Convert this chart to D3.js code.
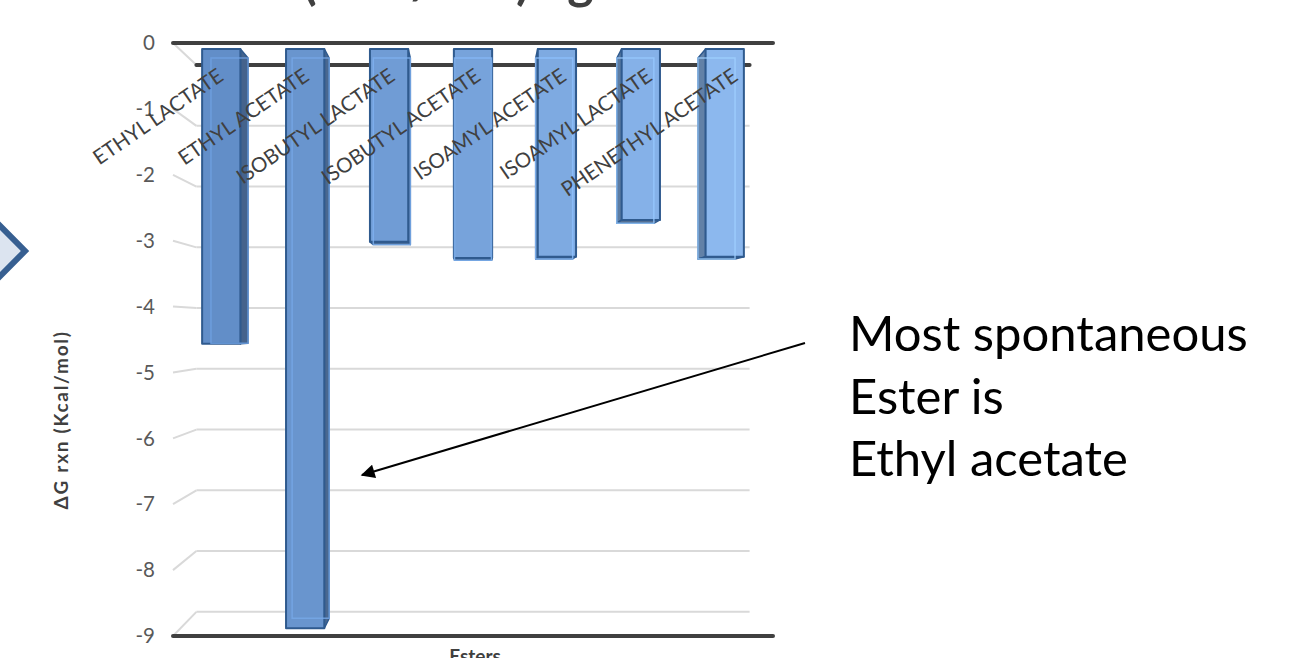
<!DOCTYPE html>
<html>
<head>
<meta charset="utf-8">
<script src="https://cdn.jsdelivr.net/npm/d3@7"></script>
<style>
  html, body { margin: 0; padding: 0; background: #fff; overflow: hidden; }
  svg { display: block; }
</style>
</head>
<body>
<svg id="chart" width="1293" height="658"></svg>
<script>
// ---- data ----
const categories = [
  "ETHYL LACTATE", "ETHYL ACETATE", "ISOBUTYL LACTATE", "ISOBUTYL ACETATE",
  "ISOAMYL ACETATE", "ISOAMYL LACTATE", "PHENETHYL ACETATE"
];
const deltaG = [-4.57, -8.98, -2.99, -3.24, -3.22, -2.65, -3.22];   // kcal/mol
const yTicks = [0, -1, -2, -3, -4, -5, -6, -7, -8, -9];
const yDomain = [0, -9];
const titleText = "\u0394G rxn (Kcal/mol) against Esters";
const yTitle = "\u0394G rxn (Kcal/mol)";
const xTitle = "Esters";
const noteLines = ["Most spontaneous", "Ester is", "Ethyl acetate"];

// ---- setup ----
const svg = d3.select("#chart");
const FONT = "Lato, 'Open Sans', 'Liberation Sans', sans-serif";

// front plane of the 3-D box
const plot = { left: 173, right: 773, top: 43, bottom: 636 };
const y = d3.scaleLinear().domain(yDomain).range([plot.top, plot.bottom]);
const x = d3.scaleBand().domain(categories).range([plot.left, plot.right]);

// simple perspective: everything shrinks toward a vanishing point with depth
const vp = { x: (plot.left + plot.right) / 2, y: y(-4.3) };
const depth = { front: 1, barFront: 0.979, barBack: 0.947, back: 0.922 };
const proj = (px, py, f) => [vp.x + (px - vp.x) * f, vp.y + (py - vp.y) * f];
const poly = pts => "M" + pts.map(p => p.join(",")).join("L") + "Z";
const line = d3.line();

// ---- clipped title at the very top ----
const title = svg.append("text")
  .attr("x", 0).attr("y", -1)
  .attr("font-family", FONT).attr("font-weight", 700)
  .attr("font-size", 50).attr("fill", "#404040")
  .text(titleText);
// place the string so the opening parenthesis sits over the plot
{
  const node = title.node();
  const idx = titleText.indexOf("(");
  const pre = node.getSubStringLength(0, idx);
  title.attr("x", 303 - pre);
}

// ---- left chevron shape ----
svg.append("path")
  .attr("d", poly([[-60, 165], [25, 251], [-60, 337]]))
  .attr("fill", "#dce4f0").attr("stroke", "#375f91").attr("stroke-width", 6)
  .attr("stroke-linejoin", "miter");

// ---- walls: gridlines on the side wall and back wall ----
const grid = svg.append("g");
yTicks.forEach(t => {
  const a = proj(plot.left, y(t), depth.front);
  const b = proj(plot.left, y(t), depth.back);
  const c = proj(plot.right, y(t), depth.back);
  grid.append("path").attr("d", line([a, b]))
    .attr("fill", "none").attr("stroke", "#d9d9d9").attr("stroke-width", 2);
  grid.append("path").attr("d", line([b, c]))
    .attr("fill", "none")
    .attr("stroke", t === 0 ? "#404040" : "#d9d9d9")
    .attr("stroke-width", t === 0 ? 4 : 2)
    .attr("stroke-linecap", t === 0 ? "round" : "butt");
});

// ---- bars ----
const colorAt = d3.interpolateRgb("#5f8bc5", "#8fbbf1");
const bars = svg.append("g");
categories.forEach((c, i) => {
  const v = deltaG[i];
  const cx = x(c) + x.bandwidth() / 2;
  const hw = x.bandwidth() * 0.228;
  const xl = cx - hw, xr = cx + hw;
  const y0 = y(0), y1 = y(v);
  const ff = depth.barFront, fb = depth.barBack;
  const col = d3.color(colorAt((cx - plot.left) / (plot.right - plot.left)));
  const edge = "#2f5a8e";

  // side face facing the viewer
  const sx = cx < vp.x ? xr : xl;
  bars.append("path")
    .attr("d", poly([proj(sx, y0, ff), proj(sx, y0, fb), proj(sx, y1, fb), proj(sx, y1, ff)]))
    .attr("fill", col.darker(1.0)).attr("stroke", edge).attr("stroke-width", 1.5)
    .attr("stroke-linejoin", "round");

  // end cap is visible when it lies above the eye level
  if (y1 < vp.y) {
    bars.append("path")
      .attr("d", poly([proj(xl, y1, ff), proj(xr, y1, ff), proj(xr, y1, fb), proj(xl, y1, fb)]))
      .attr("fill", col.darker(1.3)).attr("stroke", edge).attr("stroke-width", 1.5)
      .attr("stroke-linejoin", "round");
  }

  // front face
  bars.append("path")
    .attr("d", poly([proj(xl, y0, ff), proj(xr, y0, ff), proj(xr, y1, ff), proj(xl, y1, ff)]))
    .attr("fill", col).attr("stroke", edge).attr("stroke-width", 2)
    .attr("stroke-linejoin", "round");

  // back edges showing faintly through the column
  bars.append("path")
    .attr("d", poly([proj(xl, y0, fb), proj(xr, y0, fb), proj(xr, y1, fb), proj(xl, y1, fb)]))
    .attr("fill", "none").attr("stroke", col.brighter(0.35)).attr("stroke-opacity", 0.8)
    .attr("stroke-width", 1.5);
});

// ---- front axis lines ----
[0, -9].forEach(t => {
  svg.append("path")
    .attr("d", line([proj(plot.left, y(t), 1), proj(plot.right, y(t), 1)]))
    .attr("stroke", "#404040").attr("stroke-width", 4).attr("stroke-linecap", "round");
});

// ---- value axis labels ----
svg.append("g").selectAll("text").data(yTicks).join("text")
  .attr("x", 155).attr("y", d => y(d))
  .attr("dy", "0.35em")
  .attr("text-anchor", "end")
  .attr("font-family", FONT).attr("font-size", 20.5).attr("fill", "#595959")
  .text(d => d3.format("d")(d).replace("\u2212", "-"));

// ---- category labels, slanted ----
svg.append("g").selectAll("text").data(categories).join("text")
  .attr("transform", c => `translate(${x(c) + x.bandwidth() / 2 + 9},${y(-0.55)}) rotate(-34.5)`)
  .attr("text-anchor", "end")
  .attr("font-family", FONT).attr("font-size", 20.5).attr("fill", "#404040")
  .text(c => c);

// ---- axis titles ----
svg.append("text")
  .attr("transform", `translate(68,${y(-5.72)}) rotate(-90)`)
  .attr("text-anchor", "middle")
  .attr("font-family", FONT).attr("font-weight", 700).attr("font-size", 19)
  .attr("letter-spacing", 1.7).attr("fill", "#404040")
  .text(yTitle);

svg.append("text")
  .attr("x", vp.x + 2).attr("y", 663)
  .attr("text-anchor", "middle")
  .attr("font-family", FONT).attr("font-weight", 700).attr("font-size", 19).attr("fill", "#404040")
  .text(xTitle);

// ---- annotation ----
svg.append("defs").append("marker")
  .attr("id", "head").attr("viewBox", "0 0 10 10")
  .attr("refX", 9).attr("refY", 5)
  .attr("markerWidth", 8).attr("markerHeight", 7)
  .attr("markerUnits", "strokeWidth")
  .attr("orient", "auto")
  .append("path").attr("d", "M0,0L10,5L0,10Z").attr("fill", "#000");

svg.append("path")
  .attr("d", line([[805, 343], [362, 475]]))
  .attr("stroke", "#000").attr("stroke-width", 2)
  .attr("marker-end", "url(#head)");

svg.append("g").selectAll("text").data(noteLines).join("text")
  .attr("x", 849).attr("y", (d, i) => 351 + i * 62.5)
  .attr("font-family", FONT).attr("font-size", 49).attr("fill", "#000")
  .text(d => d);
</script>
</body>
</html>
